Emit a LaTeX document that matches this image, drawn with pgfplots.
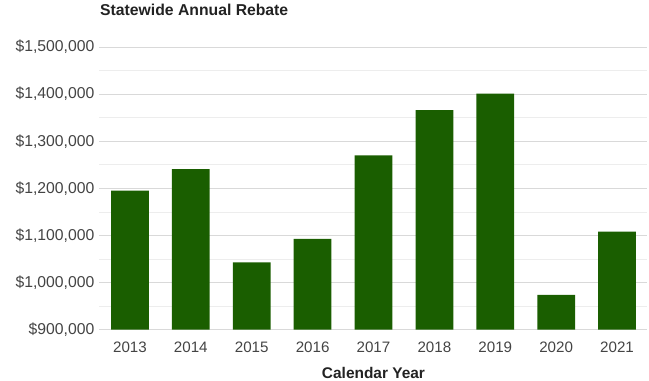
\documentclass[border=0pt]{standalone}
\usepackage{pgfplots}
\pgfplotsset{compat=1.18}
\usepackage{fontspec}
\setmainfont{Liberation Sans}
\definecolor{barg}{HTML}{1A5E00}
\definecolor{tickc}{HTML}{444444}
\definecolor{titc}{HTML}{222222}
\begin{document}
\begin{tikzpicture}
\useasboundingbox (-99.5bp,-51.3bp) rectangle (549.5bp,329.7bp);
\begin{axis}[
  scale only axis,
  width=548bp, height=282.7bp,
  xmin=-0.5, xmax=8.5,
  ymin=900000, ymax=1500000,
  ytick={900000,1000000,1100000,1200000,1300000,1400000,1500000},
  minor y tick num=1,
  scaled y ticks=false,
  xtick=data,
  xticklabels={2013,2014,2015,2016,2017,2018,2019,2020,2021},
  axis line style={draw=none},
  tick style={draw=none},
  ymajorgrids, yminorgrids,
  major grid style={draw=black!15, line width=0.8bp},
  minor grid style={draw=black!7, line width=0.8bp},
  extra y ticks={900000},
  extra y tick labels={},
  extra y tick style={grid style={draw=black!25, line width=0.9bp}},
  /pgf/number format/assume math mode=true,
  yticklabel={\$\pgfmathprintnumber[fixed,precision=0,1000 sep={,}]{\tick}},
  yticklabel style={font=\fontsize{15.8}{18}\selectfont, text=tickc, anchor=east, inner sep=0pt, xshift=-5bp},
  xticklabel style={font=\fontsize{15.2}{18}\selectfont, text=tickc, anchor=base, inner sep=0pt, yshift=-22.8bp},
  title={Statewide Annual Rebate},
  title style={font=\bfseries\fontsize{15.8}{18}\selectfont, text=titc, at={(0,1)}, anchor=base west, inner sep=0pt, yshift=25.5bp, xshift=0.5bp},
  xlabel={Calendar Year},
  xlabel style={font=\bfseries\fontsize{15.5}{18}\selectfont, text=titc, at={(axis description cs:0.5,0)}, anchor=base, inner sep=0pt, yshift=-49bp},
  clip=true,
]
\addplot[ybar, bar width=0.62, bar shift=0pt, fill=barg, draw=none] coordinates {
(0,1195000) (1,1241000) (2,1043000) (3,1093000) (4,1270000)
(5,1366000) (6,1401000) (7,974000) (8,1108000)
};
\end{axis}
\end{tikzpicture}
\end{document}
